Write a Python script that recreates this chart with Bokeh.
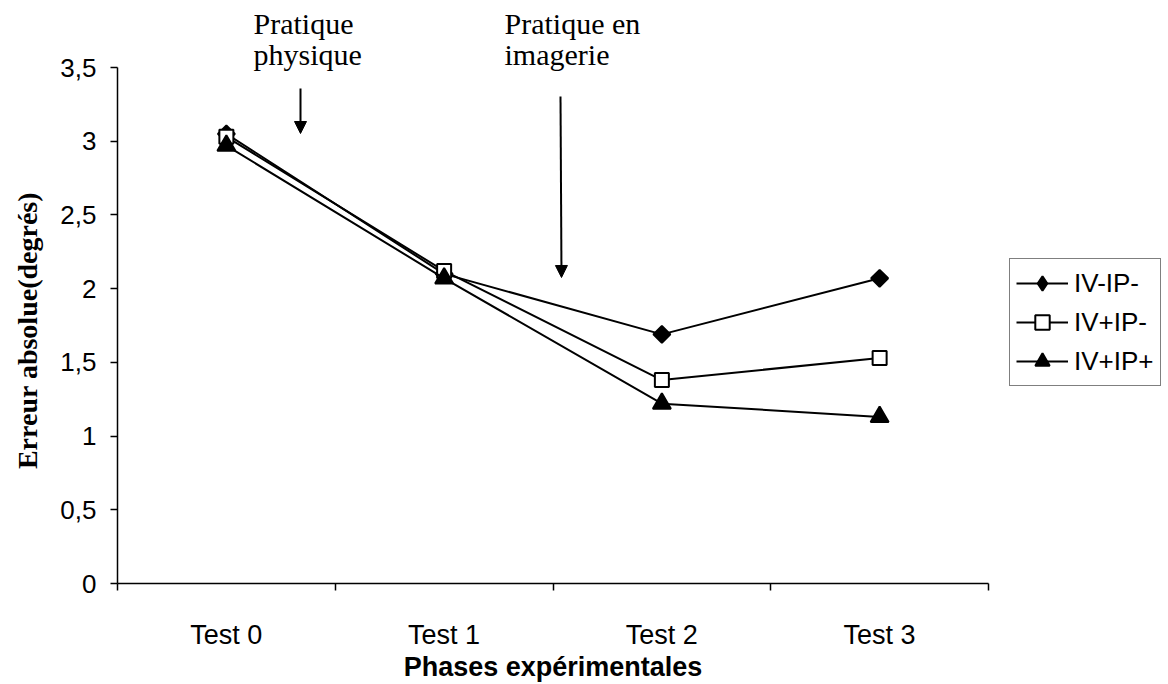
import math
from bokeh.plotting import figure
from bokeh.models import (Range1d, FixedTicker, CustomJSTickFormatter, Legend, LegendItem,
                          Label, Arrow, NormalHead)
from bokeh.embed import file_html
from bokeh.resources import INLINE

categories = ["Test 0", "Test 1", "Test 2", "Test 3"]
iv_ip_minus = [3.05, 2.10, 1.69, 2.07]
ivp_ip_minus = [3.03, 2.12, 1.38, 1.53]
ivp_ip_plus = [2.97, 2.07, 1.22, 1.13]
series_names = ["IV-IP-", "IV+IP-", "IV+IP+"]
y_ticks = [0, 0.5, 1, 1.5, 2, 2.5, 3, 3.5]
y_max = 3.5
x_title = "Phases expérimentales"
y_title = "Erreur absolue(degrés)"
note_physical = "Pratique\nphysique"
note_imagery = "Pratique en\nimagerie"

xs = [i + 0.5 for i in range(len(categories))]
bounds = list(range(len(categories) + 1))
n = len(categories)

# layout (pixels): the frame fills the canvas, axes are placed at fixed data locations
W, H = 1168, 684
AX_L, AX_R, AX_T, AX_B = 117, 988, 67, 583
ppx = (AX_R - AX_L) / n
ppy = (AX_B - AX_T) / y_max
x_range = Range1d(-AX_L / ppx, (W - AX_L) / ppx)
y_range = Range1d(-(H - AX_B) / ppy, AX_B / ppy)

p = figure(width=W, height=H, output_backend="svg", toolbar_location=None,
           x_range=x_range, y_range=y_range,
           min_border_left=0, min_border_right=0, min_border_top=0, min_border_bottom=0)
p.outline_line_color = None
p.xgrid.visible = False
p.ygrid.visible = False
p.background_fill_color = "white"
p.border_fill_color = "white"

SANS = "Liberation Sans"
SERIF = "Liberation Serif"

# x axis
xa = p.xaxis[0]
xa.fixed_location = 0
xa.bounds = (0, n)
xa.ticker = FixedTicker(ticks=xs, minor_ticks=bounds)
xa.formatter = CustomJSTickFormatter(args=dict(labels=categories),
                                     code="return labels[Math.floor(tick)]")
xa.major_tick_out = 0
xa.major_tick_in = 0
xa.minor_tick_out = 7
xa.minor_tick_in = 0
xa.minor_tick_line_color = "black"
xa.minor_tick_line_width = 1.5
xa.axis_line_color = "black"
xa.axis_line_width = 1.5
xa.major_label_text_font = SANS
xa.major_label_text_font_size = "27px"
xa.major_label_text_color = "black"
xa.major_label_standoff = 29

# y axis
ya = p.yaxis[0]
ya.fixed_location = 0
ya.bounds = (0, y_max)
ya.ticker = FixedTicker(ticks=y_ticks, minor_ticks=[])
ya.formatter = CustomJSTickFormatter(code="return tick.toString().replace('.', ',')")
ya.major_tick_out = 7
ya.major_tick_in = 0
ya.major_tick_line_width = 1.5
ya.major_tick_line_color = "black"
ya.minor_tick_out = 0
ya.minor_tick_in = 0
ya.axis_line_color = "black"
ya.axis_line_width = 1.5
ya.major_label_text_font = SANS
ya.major_label_text_font_size = "26px"
ya.major_label_text_color = "black"
ya.major_label_standoff = 14

# axis titles
p.add_layout(Label(x=n / 2, y=-(666 - AX_B) / ppy, text=x_title, text_font=SANS,
                   text_font_style="bold", text_font_size="27px", text_color="black",
                   text_align="center", text_baseline="middle"))
p.add_layout(Label(x=(27 - AX_L) / ppx, y=(AX_B - 330) / ppy, text=y_title, text_font=SERIF,
                   text_font_style="bold", text_font_size="28px", text_color="black",
                   text_align="center", text_baseline="middle", angle=math.pi / 2))

# series
nan = float("nan")
items = []
specs = [
    (iv_ip_minus, dict(marker="square", size=12, angle=math.pi / 4, fill_color="black"),
     dict(marker="diamond", size=22, fill_color="black")),
    (ivp_ip_minus, dict(marker="square", size=14, fill_color="white"), None),
    (ivp_ip_plus, dict(marker="triangle", size=18, fill_color="black"), None),
]
for name, (vals, mk, legend_mk) in zip(series_names, specs):
    ln = p.line(xs, vals, line_color="black", line_width=2)
    sc = p.scatter(xs, vals, line_color="black", line_width=2, **mk)
    if legend_mk is not None:
        sc_leg = p.scatter([nan], [nan], line_color="black", line_width=2, **legend_mk)
        items.append(LegendItem(label=name, renderers=[ln, sc_leg]))
    else:
        items.append(LegendItem(label=name, renderers=[ln, sc]))

legend = Legend(items=items, location=(1009, H - 386),
                glyph_width=52, glyph_height=36, label_height=36, spacing=3,
                padding=6, label_standoff=6, margin=0,
                label_text_font=SANS, label_text_font_size="26px", label_text_color="black",
                border_line_color="black", border_line_width=1.5,
                background_fill_color="white", background_fill_alpha=1)
p.add_layout(legend, "center")

# annotations
top_y = (AX_B - 6) / ppy
p.add_layout(Label(x=(253 - AX_L) / ppx, y=top_y, text=note_physical, text_font=SERIF,
                   text_font_size="30px", text_color="black", text_baseline="top",
                   text_line_height=0.95))
p.add_layout(Label(x=(504 - AX_L) / ppx, y=top_y, text=note_imagery, text_font=SERIF,
                   text_font_size="30px", text_color="black", text_baseline="top",
                   text_line_height=0.95))
p.add_layout(Arrow(x_start=(300 - AX_L) / ppx, y_start=(AX_B - 88) / ppy,
                   x_end=(300 - AX_L) / ppx, y_end=(AX_B - 133) / ppy,
                   line_color="black", line_width=2,
                   end=NormalHead(size=12, fill_color="black", line_color="black")))
p.add_layout(Arrow(x_start=(560 - AX_L) / ppx, y_start=(AX_B - 96) / ppy,
                   x_end=(561 - AX_L) / ppx, y_end=(AX_B - 277) / ppy,
                   line_color="black", line_width=2,
                   end=NormalHead(size=12, fill_color="black", line_color="black")))

open("out.html", "w").write(file_html(p, INLINE))
